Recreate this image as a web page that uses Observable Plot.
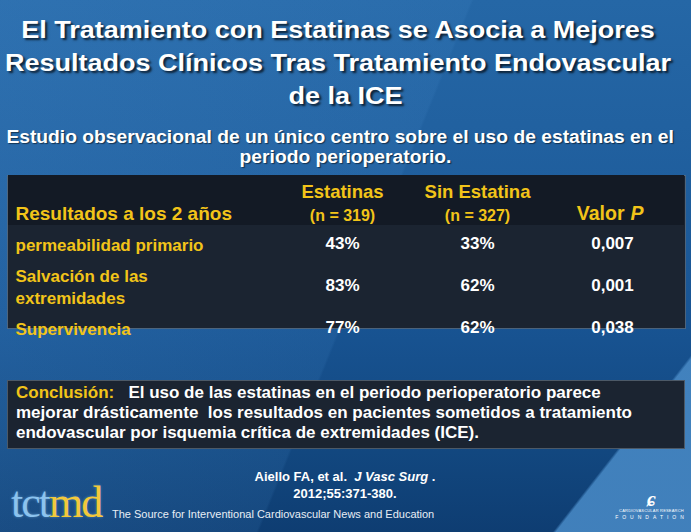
<!DOCTYPE html>
<html><head><meta charset="utf-8">
<script src="https://cdn.jsdelivr.net/npm/d3@7"></script>
<script src="https://cdn.jsdelivr.net/npm/@observablehq/plot@0.6"></script>
<style>
html,body{margin:0;padding:0;}
body{width:691px;height:532px;overflow:hidden;position:relative;
 font-family:"Liberation Sans",Arial,sans-serif;font-weight:bold;color:#fff;
 background:
  linear-gradient(128deg, transparent 87.5%, rgba(70,135,195,0.9) 87.8%),
  linear-gradient(112deg, rgba(80,150,215,0.22) 0%, rgba(80,150,215,0.12) 52%, transparent 52.3%),
  linear-gradient(180deg, #2567a6 0%, #1f5e9d 35%, #185493 60%, #12477f 85%, #0e3d72 100%);
}
#title{position:absolute;left:0;width:691px;top:13px;text-align:center;font-size:24px;line-height:33px;
 transform:scaleX(1.125);transform-origin:center top;text-shadow:2px 2px 2px rgba(0,0,0,.7);}
#subtitle{position:absolute;left:0;width:691px;top:127px;text-align:center;font-size:17.5px;line-height:20px;
 transform:scaleX(1.1);transform-origin:center top;text-shadow:1px 1px 1px rgba(0,0,0,.5);}
#table{position:absolute;left:7px;top:175px;}
#concl{position:absolute;left:7px;top:380px;width:678px;height:69px;box-sizing:border-box;
 background:#1b2431;border:1px solid rgba(110,125,140,.6);padding:2px 0 0 8px;font-size:17px;line-height:20px;}
#concl .y{color:#f2c419;}
#cite{position:absolute;left:245px;width:200px;top:468px;text-align:center;font-size:13px;line-height:17px;}
#logo{position:absolute;left:11px;top:478px;font-family:"Liberation Serif","DejaVu Serif",serif;font-weight:normal;
 font-size:44px;letter-spacing:-2px;line-height:50px;text-shadow:0 0 3px rgba(140,195,238,.5);}
#logo .a{color:#8cc3ee;} #logo .b{color:#f2c93a;}
#source{position:absolute;left:112px;top:507px;font-size:11px;line-height:14px;font-weight:normal;color:#e8eef5;}
#crf{position:absolute;left:612px;top:490px;width:79px;text-align:center;color:#fff;font-weight:normal;}
#crf .s{font-family:"Liberation Serif",serif;font-style:italic;font-size:20px;line-height:18px;font-weight:bold;}
#crf .t{font-size:4px;line-height:6px;letter-spacing:0.2px;}
#crf .f{font-size:5px;line-height:7px;letter-spacing:4px;}
</style></head>
<body>
<div id="title">El Tratamiento con Estatinas se Asocia a Mejores&nbsp;&nbsp;<br>Resultados Clínicos Tras Tratamiento Endovascular&nbsp;&nbsp;<br>de la ICE</div>
<div id="subtitle">Estudio observacional de un único centro sobre el uso de estatinas en el&nbsp;&nbsp;<br>periodo perioperatorio.</div>
<div id="table"></div>
<div id="concl"><span class="y">Conclusión:</span>&nbsp;&nbsp; El uso de las estatinas en el periodo perioperatorio parece<br>mejorar drásticamente &nbsp;los resultados en pacientes sometidos a tratamiento<br>endovascular por isquemia crítica de extremidades (ICE).</div>
<div id="cite">Aiello FA, et al.&nbsp; <i>J Vasc Surg</i> .<br>2012;55:371-380.</div>
<div id="logo"><span class="a">tct</span><span class="b">md</span></div>
<div id="source">The Source for Interventional Cardiovascular News and Education</div>
<div id="crf"><div class="s">ɕ</div><div class="t">CARDIOVASCULAR RESEARCH</div><div class="f">FOUNDATION</div></div>
<script>
const rowHeader = "Resultados a los 2 años";
const outcomes = ["permeabilidad primario", "Salvación de las\nextremidades", "Supervivencia"];
const columns = ["Estatinas", "Sin Estatina", "Valor P"];
const columnN = ["(n = 319)", "(n = 327)"];
const statins = [43, 83, 77];
const noStatin = [33, 62, 62];
const pValues = ["0,007", "0,001", "0,038"];

const yellow = "#f2c419";
const rows = [rowHeader, ...outcomes];
const cells = outcomes.flatMap((o, i) => [
  {row: o, col: columns[0], text: statins[i] + "%"},
  {row: o, col: columns[1], text: noStatin[i] + "%"},
  {row: o, col: columns[2], text: pValues[i]}
]);
const heads = columns.slice(0, 2).map((c, i) => ({col: c, n: columnN[i]}));
const pParts = columns[2].split(" ");

const common = {fontFamily: "Liberation Sans, Arial, sans-serif", fontWeight: "bold"};
const plot = Plot.plot({
  width: 678, height: 172,
  marginTop: 0, marginBottom: 19, marginLeft: 0, marginRight: 0,
  x: {type: "point", domain: columns, range: [334, 605], padding: 0, axis: null},
  y: {type: "band", domain: rows, range: [5, 173], padding: 0, axis: null},
  style: {background: "transparent", overflow: "visible"},
  marks: [
    Plot.frame({fill: "#1b2431", stroke: "#6e7d8c", strokeOpacity: 0.6}),
    Plot.cell([rowHeader], {y: d => d, fill: "#131a25", insetTop: -5, insetBottom: -3, insetLeft: 1, insetRight: 1}),
    Plot.text([rowHeader], {y: d => d, text: d => d, frameAnchor: "left", textAnchor: "start", dx: 8, dy: 12, fill: yellow, fontSize: 19, ...common}),
    Plot.text(heads, {x: "col", y: () => rowHeader, text: "col", dy: -9, fill: yellow, fontSize: 18.5, ...common}),
    Plot.text(heads, {x: "col", y: () => rowHeader, text: "n", dy: 14, fill: yellow, fontSize: 16, ...common}),
    Plot.text([pParts[0]], {x: () => columns[2], y: () => rowHeader, text: d => d, textAnchor: "end", dx: 12, dy: 12, fill: yellow, fontSize: 19.5, ...common}),
    Plot.text([pParts[1]], {x: () => columns[2], y: () => rowHeader, text: d => d, textAnchor: "start", dx: 18, dy: 12, fill: yellow, fontSize: 19.5, fontStyle: "italic", ...common}),
    Plot.text(outcomes, {y: d => d, text: d => d, frameAnchor: "left", textAnchor: "start", dx: 8, fill: yellow, fontSize: 17, lineHeight: 1.3, ...common}),
    Plot.text(cells, {x: "col", y: "row", text: "text", fill: "#ffffff", fontSize: 17, ...common})
  ]
});
document.getElementById("table").appendChild(plot);
</script>
</body></html>
